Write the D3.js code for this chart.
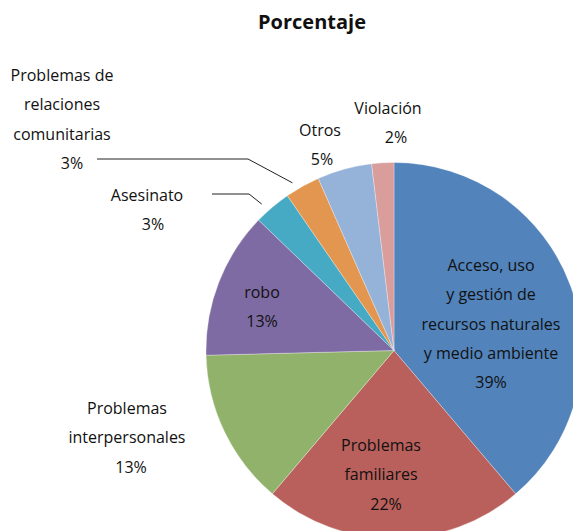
<!DOCTYPE html>
<html>
<head>
<meta charset="utf-8">
<script src="https://cdn.jsdelivr.net/npm/d3@7"></script>
<style>
  body { margin: 0; background: #fff; }
  text { font-family: "Open Sans", sans-serif; fill: #111; }
</style>
</head>
<body>
<div class="canvas"></div>
<script>
// data (share of cases, clockwise from 12 o'clock)
const categories = [
  'Acceso, uso y gestión de recursos naturales y medio ambiente',
  'Problemas familiares',
  'Problemas interpersonales',
  'robo',
  'Asesinato',
  'Problemas de relaciones comunitarias',
  'Otros',
  'Violación'
]
const values = [38.8, 22.4, 13.4, 12.6, 3.2, 3.0, 4.7, 1.9]
const colors = ['#5283bb', '#b9605c', '#91b26b', '#7f6ba4', '#46aac4', '#e3964f', '#95b2d8', '#d99d9c']

// how each label is broken into lines and where it sits
const labelLines = [
  ['Acceso, uso', 'y gestión de', 'recursos naturales', 'y medio ambiente'],
  ['Problemas', 'familiares'],
  ['Problemas', 'interpersonales'],
  ['robo'],
  ['Asesinato'],
  ['Problemas de', 'relaciones', 'comunitarias'],
  ['Otros'],
  ['Violación']
]
const labelPos = [
  [491, 271], [381, 451], [127, 414], [262, 298],
  [147, 201], [62, 81], [320, 136], [388, 114]
]
const pctDx = [0, 5, 4, 0, 6, 10, 2, 8]
const leaders = [
  null, null, null, null,
  [[212, 194], [249, 194]],
  [[97, 159], [248, 159]],
  null, null
]

const width = 573, height = 531
const cx = 394, cy = 350.5, r = 188

const svg = d3.select('.canvas').append('svg')
    .attr('width', width)
    .attr('height', height)

svg.append('text')
    .attr('x', 312)
    .attr('y', 29)
    .attr('text-anchor', 'middle')
    .style('font-size', '20px')
    .style('font-weight', 'bold')
    .text('Porcentaje')

const pie = d3.pie().sort(null).value(d => d)
const arcs = pie(values)
const arc = d3.arc().innerRadius(0).outerRadius(r)

const group = svg.append('g')
    .attr('transform', `translate(${cx},${cy})`)

group.selectAll('path')
    .data(arcs)
    .join('path')
    .attr('d', arc)
    .attr('fill', (d, i) => colors[i])
    .attr('stroke', '#fff')
    .attr('stroke-opacity', 0.6)
    .attr('stroke-width', 0.5)

// leader lines for the two thin slices on the left
const outer = d3.arc().innerRadius(r + 4).outerRadius(r + 4)
arcs.forEach((d, i) => {
  if (!leaders[i]) return
  const c = outer.centroid(d)
  const pts = leaders[i].concat([[cx + c[0] - 8, cy + c[1]]])
  svg.append('path')
      .attr('d', d3.line()(pts))
      .attr('fill', 'none')
      .attr('stroke', '#222')
      .attr('stroke-width', 1)
})

const lineH = 29.3
labelLines.forEach((lines, i) => {
  const [x, y] = labelPos[i]
  const t = svg.append('text')
      .attr('text-anchor', 'middle')
      .style('font-size', '16px')
  lines.forEach((s, k) => {
    t.append('tspan').attr('x', x).attr('y', y + k * lineH).text(s)
  })
  t.append('tspan')
      .attr('x', x + pctDx[i])
      .attr('y', y + lines.length * lineH)
      .text(Math.round(values[i]) + '%')
})
</script>
</body>
</html>
